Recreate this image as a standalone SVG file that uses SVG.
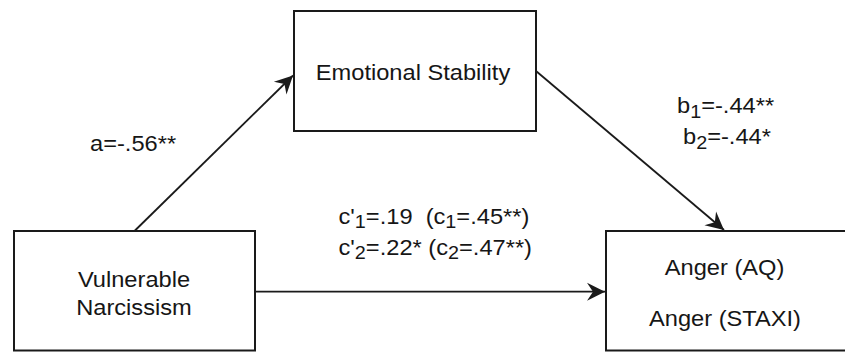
<svg xmlns="http://www.w3.org/2000/svg" width="845" height="352" viewBox="0 0 845 352">
<style>
.box{fill:#fff;stroke:#1a1a1a;stroke-width:2}
.edge{fill:none;stroke:#1a1a1a;stroke-width:1.8}
text{font-family:"Liberation Sans",Arial,sans-serif;font-size:21.5px;fill:#161616}
.sub{font-size:18px}
</style>
<defs>
<marker id="ah" markerUnits="userSpaceOnUse" viewBox="-20 -11 21 22" markerWidth="21" markerHeight="22" refX="0" refY="0" orient="auto">
<path d="M0,0 L-18,-9 L-12,0 L-18,9 Z" fill="#1a1a1a"/>
</marker>
</defs>
<rect width="845" height="352" fill="#fff"/>
<g id="connectors">
<line class="edge" x1="134.5" y1="231" x2="293" y2="75.5" marker-end="url(#ah)"/>
<line class="edge" x1="536" y1="71" x2="724" y2="230" marker-end="url(#ah)"/>
<line class="edge" x1="255" y1="291.7" x2="605" y2="291.7" marker-end="url(#ah)"/>
</g>
<g id="emotional-stability">
<rect class="box" x="294" y="11" width="242" height="120"/>
<text transform="translate(413,80) scale(1.1,1)" text-anchor="middle">Emotional Stability</text>
</g>
<g id="vulnerable-narcissism">
<rect class="box" x="14" y="231" width="241" height="119.5"/>
<text transform="translate(134,286.5) scale(1.1,1)" text-anchor="middle">Vulnerable</text>
<text transform="translate(134,315) scale(1.1,1)" text-anchor="middle">Narcissism</text>
</g>
<g id="anger">
<rect class="box" x="606" y="231" width="260" height="119.5"/>
<text transform="translate(724.5,275) scale(1.1,1)" text-anchor="middle">Anger (AQ)</text>
<text transform="translate(725,325.5) scale(1.1,1)" text-anchor="middle">Anger (STAXI)</text>
</g>
<g id="labels">
<text transform="translate(90,150.5) scale(1.1,1)">a=-.56**</text>
<text transform="translate(677,113) scale(1.1,1)">b<tspan class="sub" dy="4.5">1</tspan><tspan dy="-4.5">=-.44**</tspan></text>
<text transform="translate(683,144) scale(1.1,1)">b<tspan class="sub" dy="4.5">2</tspan><tspan dy="-4.5">=-.44*</tspan></text>
<text xml:space="preserve" transform="translate(338.5,223.5) scale(1.1,1)">c'<tspan class="sub" dy="4.5">1</tspan><tspan dy="-4.5">=.19  (c</tspan><tspan class="sub" dy="4.5">1</tspan><tspan dy="-4.5">=.45**)</tspan></text>
<text xml:space="preserve" transform="translate(338.5,254.5) scale(1.1,1)">c'<tspan class="sub" dy="4.5">2</tspan><tspan dy="-4.5">=.22* (c</tspan><tspan class="sub" dy="4.5">2</tspan><tspan dy="-4.5">=.47**)</tspan></text>
</g>
</svg>
